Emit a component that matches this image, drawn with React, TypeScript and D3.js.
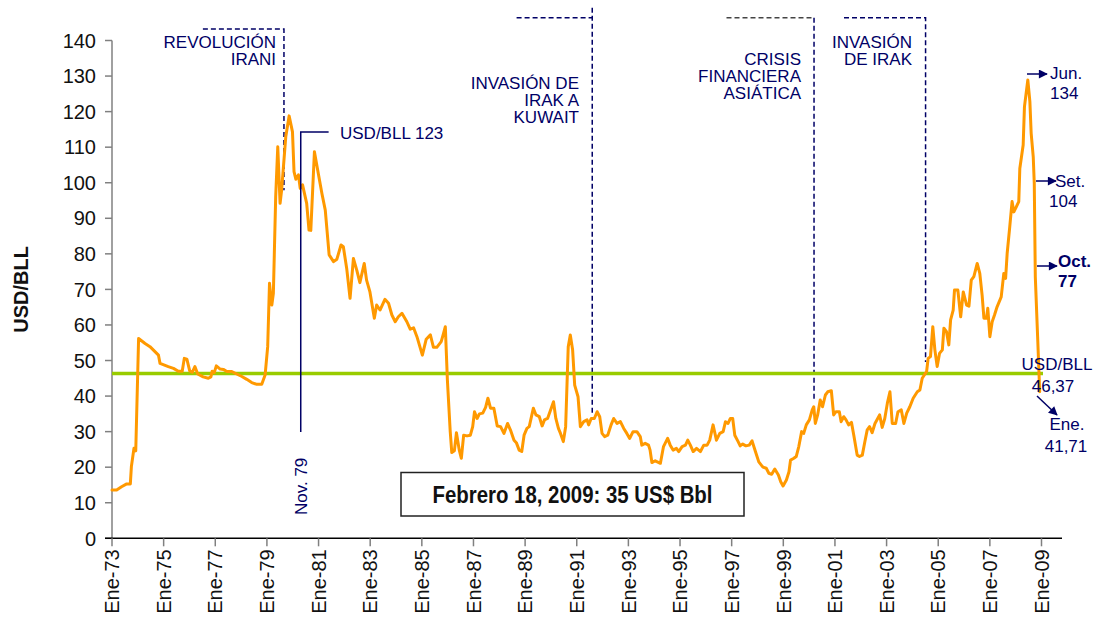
import React from "react";
import * as d3 from "d3";

// Decimal year of each reading and the price (USD/BLL)
const years = [
  1973.0, 1973.18, 1973.37, 1973.57, 1973.71, 1973.75, 1973.85, 1973.92, 1974.03, 1974.28,
  1974.47, 1974.8, 1974.86, 1975.18, 1975.38, 1975.57, 1975.72, 1975.8, 1975.9, 1976.01,
  1976.11, 1976.21, 1976.32, 1976.53, 1976.73, 1976.83, 1976.88, 1976.96, 1977.04, 1977.19,
  1977.31, 1977.45, 1977.64, 1977.83, 1978.03, 1978.22, 1978.41, 1978.61, 1978.8, 1978.93,
  1979.03, 1979.1, 1979.19, 1979.25, 1979.34, 1979.42, 1979.51, 1979.57, 1979.73, 1979.86,
  1979.99, 1980.05, 1980.12, 1980.22, 1980.29, 1980.38, 1980.54, 1980.63, 1980.7, 1980.84,
  1980.99, 1981.13, 1981.26, 1981.41, 1981.58, 1981.71, 1981.87, 1981.96, 1982.09, 1982.22,
  1982.35, 1982.48, 1982.6, 1982.77, 1982.86, 1982.99, 1983.16, 1983.25, 1983.38, 1983.57,
  1983.71, 1983.84, 1983.97, 1984.09, 1984.23, 1984.42, 1984.55, 1984.68, 1984.81, 1985.02,
  1985.17, 1985.33, 1985.45, 1985.58, 1985.75, 1985.84, 1985.91, 1985.99, 1986.1, 1986.16,
  1986.26, 1986.34, 1986.45, 1986.53, 1986.62, 1986.75, 1986.88, 1986.97, 1987.04, 1987.14,
  1987.23, 1987.36, 1987.47, 1987.56, 1987.66, 1987.79, 1987.92, 1988.05, 1988.18, 1988.32,
  1988.43, 1988.57, 1988.66, 1988.77, 1988.87, 1988.96, 1989.07, 1989.16, 1989.32, 1989.42,
  1989.55, 1989.66, 1989.75, 1989.87, 1990.1, 1990.19, 1990.29, 1990.37, 1990.48, 1990.57,
  1990.67, 1990.75, 1990.84, 1990.92, 1991.05, 1991.14, 1991.27, 1991.4, 1991.46, 1991.56,
  1991.68, 1991.79, 1991.89, 1991.98, 1992.08, 1992.2, 1992.33, 1992.43, 1992.56, 1992.69,
  1992.82, 1992.94, 1993.05, 1993.18, 1993.33, 1993.46, 1993.52, 1993.65, 1993.78, 1993.84,
  1993.91, 1994.04, 1994.24, 1994.36, 1994.52, 1994.62, 1994.73, 1994.86, 1994.95, 1995.08,
  1995.21, 1995.3, 1995.4, 1995.51, 1995.64, 1995.79, 1995.92, 1996.05, 1996.15, 1996.28,
  1996.41, 1996.54, 1996.67, 1996.76, 1996.86, 1996.95, 1997.04, 1997.12, 1997.25, 1997.33,
  1997.43, 1997.55, 1997.68, 1997.79, 1997.92, 1998.05, 1998.21, 1998.34, 1998.44, 1998.55,
  1998.67, 1998.81, 1998.9, 1998.99, 1999.12, 1999.22, 1999.28, 1999.41, 1999.5, 1999.6,
  1999.71, 1999.79, 1999.89, 2000.01, 2000.12, 2000.18, 2000.24, 2000.33, 2000.43, 2000.52,
  2000.63, 2000.72, 2000.86, 2000.95, 2001.04, 2001.17, 2001.24, 2001.34, 2001.43, 2001.53,
  2001.64, 2001.73, 2001.86, 2001.95, 2002.06, 2002.16, 2002.25, 2002.34, 2002.44, 2002.55,
  2002.64, 2002.73, 2002.83, 2002.93, 2003.03, 2003.13, 2003.22, 2003.35, 2003.44, 2003.57,
  2003.67, 2003.78, 2003.9, 2004.03, 2004.19, 2004.29, 2004.38, 2004.55, 2004.61, 2004.7,
  2004.79, 2004.87, 2004.96, 2005.05, 2005.16, 2005.22, 2005.32, 2005.41, 2005.48, 2005.58,
  2005.63, 2005.76, 2005.87, 2005.97, 2006.1, 2006.19, 2006.28, 2006.38, 2006.51, 2006.61,
  2006.7, 2006.77, 2006.87, 2006.92, 2007.0, 2007.09, 2007.18, 2007.28, 2007.44, 2007.54,
  2007.61, 2007.67, 2007.77, 2007.86, 2007.93, 2008.12, 2008.16, 2008.29, 2008.34, 2008.47,
  2008.55, 2008.6, 2008.68, 2008.72, 2008.76, 2008.85, 2008.93,
];
const prices = [
  13.6, 13.6, 14.5, 15.3, 15.3, 20.1, 25.3, 24.6, 56.2, 54.8,
  53.9, 51.5, 49.2, 48.3, 47.8, 47.0, 47.0, 50.6, 50.4, 47.1,
  46.7, 48.3, 46.2, 45.4, 45.0, 45.4, 47.0, 46.6, 48.5, 47.6,
  47.5, 46.9, 46.9, 46.2, 45.5, 44.7, 43.8, 43.3, 43.3, 45.9,
  53.9, 71.7, 65.6, 68.9, 96.1, 110.1, 94.2, 97.9, 112.9, 118.8,
  114.3, 103.1, 101.0, 102.2, 98.4, 99.4, 94.2, 86.7, 86.6, 108.7,
  102.6, 97.0, 92.3, 79.7, 77.8, 78.5, 82.5, 82.0, 75.9, 67.5,
  78.7, 75.4, 71.9, 77.3, 72.6, 69.3, 61.9, 65.6, 64.2, 67.2,
  66.1, 62.8, 60.9, 62.3, 63.3, 60.9, 58.8, 59.2, 56.7, 51.5,
  56.0, 57.2, 53.7, 53.7, 55.3, 57.6, 59.5, 44.5, 30.0, 24.1,
  24.6, 29.7, 24.8, 22.5, 29.0, 28.8, 29.0, 31.4, 35.6, 33.7,
  35.0, 35.2, 36.8, 39.4, 36.6, 36.6, 31.6, 31.4, 29.5, 32.3,
  30.5, 27.6, 26.9, 24.8, 24.4, 29.0, 30.9, 31.4, 36.6, 34.7,
  34.2, 31.6, 33.3, 33.7, 38.4, 33.7, 30.9, 29.5, 27.2, 31.4,
  53.9, 57.2, 53.0, 43.1, 39.8, 31.4, 32.8, 33.3, 31.9, 33.7,
  33.7, 35.6, 34.2, 29.5, 28.6, 29.0, 31.9, 33.7, 32.3, 32.8,
  30.9, 29.5, 28.1, 30.0, 30.0, 28.6, 26.2, 26.7, 26.2, 24.8,
  21.3, 21.8, 21.1, 25.8, 28.1, 26.2, 24.8, 25.3, 24.4, 25.8,
  26.2, 27.6, 26.2, 24.4, 25.3, 24.4, 26.2, 26.2, 27.6, 31.9,
  27.6, 29.5, 30.0, 32.8, 32.3, 33.7, 33.7, 29.0, 27.2, 26.0,
  26.5, 26.0, 26.2, 27.4, 24.4, 21.5, 20.0, 19.7, 18.3, 18.0,
  19.5, 17.8, 15.9, 14.7, 16.4, 18.7, 22.0, 22.5, 23.0, 25.8,
  30.0, 29.5, 31.9, 33.3, 36.1, 37.0, 32.3, 34.7, 38.9, 37.0,
  40.3, 41.2, 41.5, 34.7, 35.6, 35.6, 32.8, 34.2, 33.3, 31.9,
  32.6, 29.0, 23.4, 23.0, 23.4, 27.2, 30.5, 31.4, 29.7, 32.3,
  33.5, 34.7, 31.2, 33.7, 38.0, 41.2, 32.3, 32.3, 35.6, 36.1,
  32.3, 35.2, 37.0, 39.4, 41.2, 41.7, 45.0, 46.9, 50.6, 51.1,
  59.5, 53.0, 48.3, 52.0, 53.0, 59.1, 58.1, 54.4, 61.4, 64.2,
  69.8, 69.8, 62.3, 69.3, 65.6, 65.3, 72.6, 73.6, 77.3, 74.5,
  68.4, 61.9, 61.9, 64.7, 56.7, 60.9, 62.8, 65.1, 67.9, 74.5,
  73.1, 80.1, 87.6, 94.7, 91.8, 94.7, 104.0, 110.6, 121.4, 128.9,
  122.8, 113.9, 107.3, 99.8, 73.6, 56.7, 41.2,
];

const averagePrice = 46.37;
const tickYears = d3.range(1973, 2010, 2);
const yTicks = d3.range(0, 141, 10);
const tickLabel = (yr: number) => "Ene-" + String(yr).slice(2);

const NAVY = "#000066";
const SANS = "'Liberation Sans', Arial, sans-serif";

export default function App() {
  const x = d3.scaleLinear().domain([1973, 2009]).range([112, 1041.5]);
  const y = d3.scaleLinear().domain([0, 140]).range([538.3, 40.5]);

  const pts = years.map((yr, i) => [yr, prices[i]] as [number, number]);
  const line = d3
    .line<[number, number]>()
    .x((d) => x(d[0]))
    .y((d) => y(d[1]));

  const dash = "5,3";

  return (
    <svg
      width={1094}
      height={621}
      style={{ position: "absolute", left: 0, top: 0, background: "#fff" }}
    >
      <defs>
        <marker
          id="arr"
          viewBox="0 0 10 10"
          refX="9"
          refY="5"
          markerWidth="10"
          markerHeight="9"
          markerUnits="userSpaceOnUse"
          orient="auto"
        >
          <path d="M0,0 L10,5 L0,10 z" fill={NAVY} />
        </marker>
      </defs>

      {/* Y axis */}
      <line x1={112} x2={112} y1={y(140)} y2={y(0)} stroke="#808080" strokeWidth={1.5} />
      {yTicks.map((t) => (
        <g key={t}>
          <line x1={105} x2={112} y1={y(t)} y2={y(t)} stroke="#808080" strokeWidth={1.5} />
          <text
            x={96}
            y={y(t)}
            dy="0.36em"
            textAnchor="end"
            fontFamily={SANS}
            fontSize={20}
            fill="#111"
          >
            {t}
          </text>
        </g>
      ))}
      <text
        transform={`translate(28,${(y(0) + y(140)) / 2}) rotate(-90)`}
        textAnchor="middle"
        fontFamily={SANS}
        fontWeight="bold"
        fontSize={20}
        fill="#111"
      >
        USD/BLL
      </text>

      {/* X axis */}
      <line x1={105} x2={1062} y1={y(0)} y2={y(0)} stroke="#000" strokeWidth={1.5} />
      {tickYears.map((t) => (
        <g key={t}>
          <line x1={x(t)} x2={x(t)} y1={y(0)} y2={y(0) + 8} stroke="#808080" strokeWidth={1.5} />
          <text
            transform={`translate(${x(t)},${y(0) + 11}) rotate(-90)`}
            dy="0.36em"
            textAnchor="end"
            fontFamily={SANS}
            fontSize={20}
            fill="#111"
          >
            {tickLabel(t)}
          </text>
        </g>
      ))}

      {/* Annotation dashed lines */}
      <g stroke={NAVY} strokeWidth={1.5} strokeDasharray={dash} fill="none">
        <path d={`M${x(1976.52)},${y(143.2)} H${x(1979.66)} V${y(97.9)}`} />
        <path d={`M${x(1988.67)},${y(146.4)} H${x(1991.6)}`} />
        <path d={`M${x(1991.6)},${y(149.2)} V${y(35.2)}`} />
        <path d={`M${x(2000.19)},${y(146.4)} V${y(38.4)}`} />
        <path d={`M${x(2001.35)},${y(146.4)} H${x(2004.51)} V${y(49.6)}`} />
      </g>
      <path
        d={`M${x(1996.8)},${y(146.4)} H${x(2000.19)}`}
        stroke="#444"
        strokeWidth={1.5}
        strokeDasharray={dash}
        fill="none"
      />

      {/* Average line */}
      <line
        x1={x(1973)}
        x2={1043}
        y1={y(averagePrice)}
        y2={y(averagePrice)}
        stroke="#99cc00"
        strokeWidth={3.5}
      />

      {/* Price line */}
      <path
        d={line(pts) || ""}
        fill="none"
        stroke="#ff9900"
        strokeWidth={3}
        strokeLinejoin="round"
        strokeLinecap="round"
      />

      {/* Nov 79 callout */}
      <path
        d={`M${x(1981.39)},${y(114.3)} H${x(1980.31)} V${y(29.9)}`}
        stroke={NAVY}
        strokeWidth={1.5}
        fill="none"
      />

      <g fontFamily={SANS} fontSize={17} fill={NAVY}>
        <text x={340} y={139}>USD/BLL 123</text>
        <text transform={`translate(${x(1980.31)},515) rotate(-90)`} dy="0.36em">
          Nov. 79
        </text>

        <text x={276} y={48} textAnchor="end">REVOLUCIÓN</text>
        <text x={276} y={65} textAnchor="end">IRANI</text>

        <text x={579} y={89} textAnchor="end">INVASIÓN DE</text>
        <text x={579} y={106} textAnchor="end">IRAK A</text>
        <text x={579} y={123} textAnchor="end">KUWAIT</text>

        <text x={801} y={65} textAnchor="end">CRISIS</text>
        <text x={801} y={82} textAnchor="end">FINANCIERA</text>
        <text x={801} y={98.5} textAnchor="end">ASIÁTICA</text>

        <text x={912} y={48} textAnchor="end">INVASIÓN</text>
        <text x={912} y={65} textAnchor="end">DE IRAK</text>

        <text x={1050} y={79}>Jun.</text>
        <text x={1050} y={99}>134</text>
        <text x={1055} y={187}>Set.</text>
        <text x={1049} y={207}>104</text>
        <text x={1058} y={267} fontWeight="bold">Oct.</text>
        <text x={1058} y={287} fontWeight="bold">77</text>
        <text x={1057} y={370} textAnchor="middle">USD/BLL</text>
        <text x={1053} y={392} textAnchor="middle">46,37</text>
        <text x={1067} y={430} textAnchor="middle">Ene.</text>
        <text x={1066} y={452} textAnchor="middle">41,71</text>
      </g>

      {/* Arrows */}
      <g stroke={NAVY} strokeWidth={1.5} markerEnd="url(#arr)">
        <line x1={1027} y1={74} x2={1047} y2={74} />
        <line x1={1036} y1={181} x2={1056} y2={181} />
        <line x1={1037} y1={266} x2={1057} y2={266} />
        <line x1={1037} y1={396} x2={1057} y2={415} />
      </g>

      {/* Note box */}
      <rect x={401} y={472.5} width={343} height={43.5} fill="#fff" stroke="#222" strokeWidth={1.5} />
      <text
        x={572.5}
        y={502.5}
        textAnchor="middle"
        fontFamily={SANS}
        fontWeight="bold"
        fontSize={23}
        textLength={280}
        lengthAdjust="spacingAndGlyphs"
        fill="#111"
      >
        Febrero 18, 2009: 35 US$ Bbl
      </text>
    </svg>
  );
}
